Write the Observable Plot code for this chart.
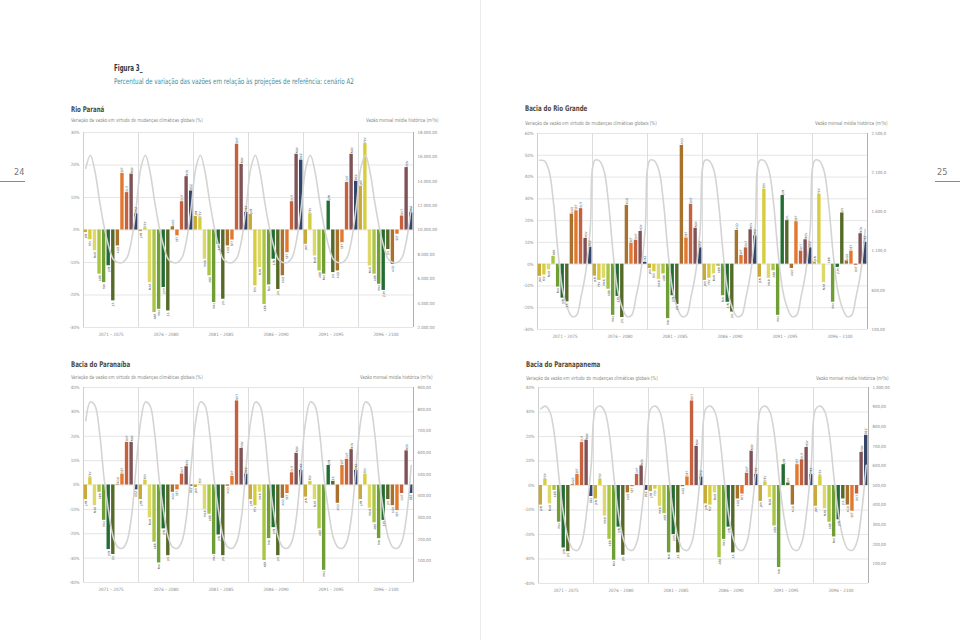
<!DOCTYPE html>
<html><head><meta charset="utf-8">
<script src="https://cdn.jsdelivr.net/npm/d3@7"></script>
<script src="https://cdn.jsdelivr.net/npm/@observablehq/plot@0.6"></script>
<style>
html,body{margin:0;padding:0;background:#fff;}
body{width:960px;height:640px;overflow:hidden;position:relative;font-family:'Liberation Sans Narrow','DejaVu Sans Condensed','Arial Narrow',sans-serif;}
.abs{position:absolute;white-space:nowrap;line-height:1;}
.ptitle{font-weight:bold;font-size:7.8px;color:#4d4a3c;transform:scaleX(0.78);transform-origin:0 50%;}
.psub{font-size:5.5px;color:#8a8a80;transform:scaleX(0.8);transform-origin:0 50%;}
.psubr{font-size:5.5px;color:#8a8a80;transform:scaleX(0.8);transform-origin:100% 50%;}
.pnum{font-size:9px;color:#777;}
</style></head><body>
<script>
const FONT = "'Liberation Sans Narrow','DejaVu Sans Condensed','Arial Narrow',sans-serif";
const months = ["JAN","FEV","MAR","ABR","MAI","JUN","JUL","AGO","SET","OUT","NOV","DEZ"];
const monthColors = ["#c9a93a","#d6cd3e","#dcd86a","#a9c544","#6f9e35","#236d33","#556a27","#a8722e","#e2772d","#c4613e","#7f5257","#34456a"];
const periods = ["2071 – 2075","2076 – 2080","2081 – 2085","2086 – 2090","2091 – 2095","2096 – 2100"];

// % variation, one row per period, JAN..DEZ
const paranaValues = [
  [-0.8, -3, -6.4, -13.6, -16.2, -11, -21.8, -4.9, 17.4, 11.5, 17.2, 5],
  [-0.5, 0.7, -16.2, -25.4, -24.4, -17.7, -24.9, 1, -1.8, 8.7, 16.4, 12],
  [4.2, 3.8, -9, -14.1, -22.3, -4.4, -21.3, -4.9, -3.1, 26.4, 20.2, 5.4],
  [4.8, -17.2, -11.6, -22.9, -16.9, -9, -18.3, -14.1, -7, 8.7, 23.3, 21.5],
  [-4.4, 5, -8, -12.6, -13.6, 8.9, -13.1, -12.6, -3.9, 14.6, 23.3, 15],
  [13.5, 26.6, -11.1, -13.6, -16.7, -18.6, -6, -10.6, -1.3, 4.3, 19.2, 5.3]
];
const rioGrandeValues = [
  [-5.6, -5, -2.6, 3.6, -10.5, -15.6, -17.3, 23, 24.5, 25.5, 11.8, 7.8],
  [-5.5, -7.5, -6.5, -11.5, -23.5, -14.8, -24.5, 27, 9.5, 11, 15, 0.8],
  [-2, -3.5, -7, -4.5, -25, -14.5, -18.5, 54.5, 12, 27.5, 16.5, 7.5],
  [-7.5, -6.5, -4.5, -1, -14.5, -17.5, -22, 15.5, 4, 7.5, 15.8, 13],
  [-6, 34.5, -6.5, -3, -23.5, 31.5, 20, -2, 19.5, 6, 11.2, 7.5],
  [1, 32, -8.5, 0, -17.5, -1.5, 23.5, 1.5, 6, -0.5, 14, 10]
];
const paranaibaValues = [
  [-6, 3, -8.5, -3, -14.5, -26.5, -28.5, 0.3, 4.5, 17.5, 17.5, -2],
  [-6, 2, -13.5, -23.5, -32, -18, -29, -3, -2, 4.5, 7.5, -0.5],
  [-1, 0.3, -10, -12, -28.5, -20.5, -29, -0.5, 3.5, 34.5, 15, 4.5],
  [-6, -8.5, -3, -31, -22, -17.5, -29, -5.5, -3.5, 5, 13, 6],
  [-5, 1.5, -6, -18, -35, 8, 1.5, -7.5, 8, 10.5, 14.5, 6],
  [-6, 4.5, -9.5, -15.5, -22, -14.5, -6, -8.5, -10.5, -3.5, 14, -3.5]
];
const paranapanemaValues = [
  [-8, 2.5, -7.5, -2, -15, -25.5, -27, 0.3, 4.5, 17.5, 18.5, -4.5],
  [-5.5, 2.5, -12.5, -22, -30.5, -17, -28.5, -3, -0.5, 4.5, 8, -2],
  [-2.5, -1.5, -8.5, -11.5, -27.5, -20, -27.5, -0.5, 3.5, 34.5, 16, 3.5],
  [-7.5, -8, -3, -29.5, -22, -17, -27.5, -5.5, -3.5, 5, 14, 4.5],
  [-6.5, 1.5, -5, -16.5, -33.5, 8.5, 1, -8, 8.5, 10.5, 15.5, 4.5],
  [-8.5, 4, -9.5, -15, -21, -14, -5.5, -8, -10.5, -3.5, 13.5, 20.5]
];

// historical mean monthly flow (m3/s), JAN..DEZ
const paranaFlow = [15070, 16130, 14800, 12400, 10270, 8670, 7600, 7330, 7330, 7730, 9200, 11870];
const rioGrandeFlow = [2172, 2164, 2047, 1647, 1033, 580, 367, 260, 273, 500, 793, 1327];
const paranaibaFlow = [747, 833, 816, 693, 478, 326, 208, 163, 158, 191, 309, 540];
const paranapanemaFlow = [891, 905, 875, 755, 534, 348, 228, 176, 169, 213, 364, 603];

// axes
const paranaPctTicks = [-30, -20, -10, 0, 10, 20, 30];
const rioGrandePctTicks = [-30, -20, -10, 0, 10, 20, 30, 40, 50, 60];
const basinPctTicks = [-40, -30, -20, -10, 0, 10, 20, 30, 40];
const paranaFlowTicks = [2000, 4000, 6000, 8000, 10000, 12000, 14000, 16000, 18000];
const paranaFlowLabels = ["2.000,00","4.000,00","6.000,00","8.000,00","10.000,00","12.000,00","14.000,00","16.000,00","18.000,00"];
const rioGrandeFlowTicks = [100, 580, 1060, 1540, 2020, 2500];
const rioGrandeFlowLabels = ["100,00","600,00","1.100,0","1.600,0","2.100,0","2.500,0"];
const paranaibaFlowTicks = [100, 200, 300, 400, 500, 600, 700, 800, 900];
const paranaibaFlowLabels = ["100,00","200,00","300,00","400,00","500,00","600,00","700,00","800,00","900,00"];
const paranapanemaFlowTicks = [100, 200, 300, 400, 500, 600, 700, 800, 900, 1000];
const paranapanemaFlowLabels = ["100,00","200,00","300,00","400,00","500,00","600,00","700,00","800,00","900,00","1.000,00"];

const leftLabel = "Variação da vazão em virtude de mudanças climáticas globais (%)";
const rightLabel = "Vazão mensal média histórica (m³/s)";

function addText(txt, cls, left, top, extra) {
  const d = document.createElement("div");
  d.className = "abs " + cls;
  d.textContent = txt;
  d.style.left = left + "px";
  d.style.top = top + "px";
  if (extra) Object.assign(d.style, extra);
  document.body.appendChild(d);
  return d;
}

function panel(cfg) {
  const data = [];
  cfg.values.forEach((row, p) => row.forEach((v, m) => data.push({i: p * 12 + m, m, month: months[m], v})));
  const lineData = [];
  for (let p = 0; p < 6; p++) cfg.flow.forEach((f, m) => lineData.push({i: p * 12 + m, f}));
  const lo = cfg.pctDomain[0];
  const toPct = d3.scaleLinear().domain(cfg.flowDomain).range(cfg.pctDomain);
  const chart = Plot.plot({
    width: cfg.w, height: cfg.h,
    marginLeft: cfg.ml, marginRight: cfg.w - cfg.ml - 330, marginTop: 8, marginBottom: cfg.h - 8 - cfg.ph,
    x: {domain: [0, 72], axis: null},
    y: {domain: cfg.pctDomain},
    style: {fontFamily: FONT, background: "transparent", overflow: "visible", color: "#8a8a8a"},
    marks: [
      Plot.ruleY(cfg.pctTicks, {stroke: "#dedede", strokeWidth: 0.8}),
      Plot.ruleX([12, 24, 36, 48, 60], {stroke: "#dcdcdc", strokeWidth: 1}),
      Plot.ruleX([0], {stroke: "#cfcfcf", strokeWidth: 1}),
      Plot.ruleX([72], {stroke: "#b0b0b0", strokeWidth: 1}),
      Plot.rectY(data, {x1: d => d.i, x2: d => d.i + 1, y1: 0, y2: "v", fill: d => monthColors[d.m], insetLeft: 0.6, insetRight: 0.6}),
      Plot.line(lineData, {x: d => d.i + 0.5, y: d => toPct(d.f), stroke: "#d4d4d4", strokeWidth: 1.6, curve: "catmull-rom"}),
      Plot.text(data.filter(d => d.v >= 0), {x: d => d.i + 0.5, y: "v", text: "month", rotate: -90, textAnchor: "start", dy: -1, fontSize: 3.1, fill: "#444"}),
      Plot.text(data.filter(d => d.v < 0), {x: d => d.i + 0.5, y: "v", text: "month", rotate: -90, textAnchor: "end", dy: 1, fontSize: 3.1, fill: "#444"}),
      Plot.axisY(cfg.pctTicks, {anchor: "left", tickSize: 0, tickPadding: 4, tickFormat: d => d + "%", fontSize: 4.4, label: null}),
      Plot.text(cfg.flowTicks, {x: () => 72, y: d => toPct(d), text: (d, i) => cfg.flowLabels[i], textAnchor: "start", dx: 4, fontSize: 4.3, fill: "#8a8a8a"}),
      Plot.text(periods, {x: (d, i) => i * 12 + 6, y: () => lo, text: d => d, dy: 7, fontSize: 4.5, fill: "#8a8a8a"})
    ]
  });
  const wrap = document.createElement("div");
  wrap.className = "abs";
  wrap.style.left = cfg.left + "px";
  wrap.style.top = cfg.top + "px";
  wrap.appendChild(chart);
  document.body.appendChild(wrap);
}

// header
addText("Figura 3_", "", 114, 63.5, {fontWeight: "bold", fontSize: "8.5px", color: "#253a44", transform: "scaleX(0.72)", transformOrigin: "0 50%"});
addText("Percentual de variação das vazões em relação às projeções de referência: cenário A2", "", 114, 77.5, {fontSize: "7.8px", color: "#3e8d9c", transform: "scaleX(0.8)", transformOrigin: "0 50%"});
// page numbers
addText("24", "pnum", 14, 168);
addText("25", "pnum", 937, 168);
addText("", "", 0, 180.5, {width: "25px", height: "1px", background: "#8a8a8a"});
addText("", "", 935, 180.5, {width: "25px", height: "1px", background: "#8a8a8a"});
addText("", "", 480, 0, {width: "1px", height: "640px", background: "#ececec"});

// Rio Paraná
addText("Rio Paraná", "ptitle", 71, 106);
addText(leftLabel, "psub", 71, 118);
addText(rightLabel, "psubr", 0, 118, {left: "auto", right: (960 - 438) + "px"});
panel({values: paranaValues, flow: paranaFlow, pctDomain: [-30, 30], pctTicks: paranaPctTicks,
  flowDomain: [2000, 18000], flowTicks: paranaFlowTicks, flowLabels: paranaFlowLabels,
  left: 50, top: 124, w: 410, ml: 33, h: 216, ph: 195});

// Bacia do Rio Grande
addText("Bacia do Rio Grande", "ptitle", 525, 105);
addText(leftLabel, "psub", 525, 120.5);
addText(rightLabel, "psubr", 0, 120.5, {left: "auto", right: (960 - 887) + "px"});
panel({values: rioGrandeValues, flow: rioGrandeFlow, pctDomain: [-30, 60], pctTicks: rioGrandePctTicks,
  flowDomain: [100, 2500], flowTicks: rioGrandeFlowTicks, flowLabels: rioGrandeFlowLabels,
  left: 505, top: 125, w: 412, ml: 32, h: 217, ph: 196});

// Bacia do Paranaíba
addText("Bacia do Paranaíba", "ptitle", 71, 360.5);
addText(leftLabel, "psub", 71, 375);
addText(rightLabel, "psubr", 0, 375, {left: "auto", right: (960 - 432) + "px"});
panel({values: paranaibaValues, flow: paranaibaFlow, pctDomain: [-40, 40], pctTicks: basinPctTicks,
  flowDomain: [0, 900], flowTicks: paranaibaFlowTicks, flowLabels: paranaibaFlowLabels,
  left: 50, top: 379, w: 410, ml: 33, h: 216, ph: 195});

// Bacia do Paranapanema
addText("Bacia do Paranapanema", "ptitle", 525.5, 360.5);
addText(leftLabel, "psub", 525.5, 375.5);
addText(rightLabel, "psubr", 0, 375.5, {left: "auto", right: (960 - 888) + "px"});
panel({values: paranapanemaValues, flow: paranapanemaFlow, pctDomain: [-40, 40], pctTicks: basinPctTicks,
  flowDomain: [0, 1000], flowTicks: paranapanemaFlowTicks, flowLabels: paranapanemaFlowLabels,
  left: 505, top: 379, w: 413, ml: 33, h: 217, ph: 196});
</script>
</body></html>
